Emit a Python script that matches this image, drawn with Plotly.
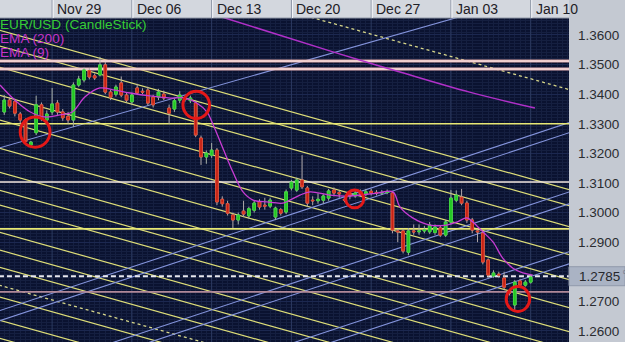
import plotly.graph_objects as go

# ---------------- data ----------------
week_labels = ["Nov 22", "Nov 29", "Dec 06", "Dec 13", "Dec 20", "Dec 27", "Jan 03", "Jan 10"]
week_index = [-15, 0, 15, 30, 45, 60, 75, 90]

bar_index = list(range(-9, 91))
opens = [1.3340, 1.3380, 1.3375, 1.3333, 1.3313, 1.3228, 1.3270, 1.3364, 1.3313,
         1.3340, 1.3370, 1.3340, 1.3325, 1.3313, 1.3431, 1.3448, 1.3480, 1.3462, 1.3465,
         1.3499, 1.3407, 1.3400, 1.3438, 1.3397, 1.3374, 1.3421, 1.3410, 1.3414, 1.3390,
         1.3390, 1.3400, 1.3353, 1.3350, 1.3380, 1.3385, 1.3378, 1.3370, 1.3252, 1.3188,
         1.3194, 1.3211, 1.3045, 1.3030, 1.2992, 1.2975, 1.3005, 1.2989, 1.3008, 1.3036,
         1.3025, 1.3022, 1.2985, 1.3010, 1.3002, 1.3083, 1.3076, 1.3110, 1.3083, 1.3042,
         1.3040, 1.3042, 1.3049, 1.3076, 1.3068, 1.3045, 1.3066, 1.3056, 1.3068, 1.3062,
         1.3072, 1.3068, 1.3066, 1.3068, 1.3066, 1.2938, 1.2938, 1.2866, 1.2938, 1.2935,
         1.2938, 1.2935, 1.2933, 1.2948, 1.2924, 1.2968, 1.3042, 1.3052, 1.3032, 1.2975,
         1.2938, 1.2931, 1.2840, 1.2786, 1.2792, 1.2779, 1.2730, 1.2688, 1.2769, 1.2755,
         1.2765]
highs = [1.3397, 1.3390, 1.3385, 1.3340, 1.3318, 1.3242, 1.3395, 1.3372, 1.3345,
         1.3421, 1.3380, 1.3350, 1.3340, 1.3440, 1.3462, 1.3490, 1.3488, 1.3470, 1.3526,
         1.3509, 1.3415, 1.3432, 1.3460, 1.3405, 1.3405, 1.3435, 1.3420, 1.3425, 1.3398,
         1.3418, 1.3412, 1.3365, 1.3385, 1.3410, 1.3395, 1.3395, 1.3378, 1.3260, 1.3210,
         1.3235, 1.3218, 1.3055, 1.3040, 1.3000, 1.3000, 1.3040, 1.3020, 1.3040, 1.3045,
         1.3050, 1.3050, 1.3020, 1.3015, 1.3078, 1.3110, 1.3118, 1.3194, 1.3090, 1.3055,
         1.3065, 1.3062, 1.3080, 1.3085, 1.3075, 1.3052, 1.3072, 1.3075, 1.3078, 1.3080,
         1.3080, 1.3076, 1.3076, 1.3078, 1.3070, 1.2945, 1.2945, 1.2948, 1.2960, 1.2960,
         1.2955, 1.2968, 1.2960, 1.2955, 1.2975, 1.3076, 1.3075, 1.3080, 1.3040, 1.2982,
         1.2945, 1.2938, 1.2845, 1.2805, 1.2800, 1.2800, 1.2738, 1.2772, 1.2775, 1.2772,
         1.2790]
lows = [1.3330, 1.3352, 1.3325, 1.3300, 1.3232, 1.3222, 1.3262, 1.3310, 1.3300,
        1.3330, 1.3330, 1.3310, 1.3300, 1.3289, 1.3425, 1.3440, 1.3450, 1.3448, 1.3460,
        1.3400, 1.3380, 1.3392, 1.3390, 1.3372, 1.3365, 1.3398, 1.3400, 1.3362, 1.3355,
        1.3380, 1.3380, 1.3300, 1.3340, 1.3370, 1.3375, 1.3370, 1.3255, 1.3161, 1.3165,
        1.3185, 1.3025, 1.3020, 1.2990, 1.2948, 1.2960, 1.2985, 1.2980, 1.3000, 1.3010,
        1.3010, 1.3015, 1.2975, 1.2990, 1.2995, 1.3075, 1.3070, 1.3080, 1.3020, 1.3025,
        1.3030, 1.3030, 1.3040, 1.3055, 1.3050, 1.3035, 1.3045, 1.3050, 1.3055, 1.3055,
        1.3058, 1.3058, 1.3060, 1.3062, 1.2930, 1.2900, 1.2862, 1.2856, 1.2925, 1.2925,
        1.2930, 1.2928, 1.2925, 1.2918, 1.2918, 1.2960, 1.3035, 1.3025, 1.2965, 1.2930,
        1.2900, 1.2825, 1.2780, 1.2780, 1.2780, 1.2740, 1.2720, 1.2671, 1.2748, 1.2750,
        1.2760]
closes = [1.3380, 1.3360, 1.3336, 1.3313, 1.3240, 1.3238, 1.3364, 1.3320, 1.3333,
          1.3367, 1.3340, 1.3320, 1.3313, 1.3431, 1.3451, 1.3482, 1.3458, 1.3455, 1.3499,
          1.3407, 1.3390, 1.3424, 1.3397, 1.3380, 1.3397, 1.3404, 1.3407, 1.3370, 1.3364,
          1.3407, 1.3387, 1.3336, 1.3378, 1.3397, 1.3382, 1.3387, 1.3262, 1.3188, 1.3201,
          1.3211, 1.3036, 1.3030, 1.2998, 1.2975, 1.2992, 1.2995, 1.3013, 1.3032, 1.3019,
          1.3022, 1.3042, 1.3015, 1.2998, 1.3070, 1.3103, 1.3110, 1.3087, 1.3032, 1.3040,
          1.3045, 1.3056, 1.3073, 1.3066, 1.3063, 1.3042, 1.3056, 1.3066, 1.3062, 1.3070,
          1.3066, 1.3066, 1.3068, 1.3070, 1.2941, 1.2935, 1.2870, 1.2938, 1.2935, 1.2938,
          1.2941, 1.2958, 1.2951, 1.2924, 1.2968, 1.3049, 1.3059, 1.3032, 1.2975, 1.2941,
          1.2935, 1.2833, 1.2789, 1.2796, 1.2789, 1.2748, 1.2728, 1.2765, 1.2755, 1.2765,
          1.2782]

ema9_index = [-9.8, -7, -4.1, -1.3, 1.5, 3.8, 6.2, 9, 11.8, 14.7, 18.4, 22.2, 25, 27.2,
              29.1, 30.3, 32.1, 34, 35.9, 37.8, 40.4, 43.4, 44.7, 46.6, 48.5, 52.2, 56,
              61.1, 64.1, 65.4, 67.8, 71, 74.2, 76.1, 78, 79.1, 81, 82.9, 84.7, 86.6,
              88.5, 90.4]
ema9_price = [1.3431, 1.3380, 1.3340, 1.3323, 1.3330, 1.3340, 1.3391, 1.3421, 1.3414,
              1.3404, 1.3394, 1.3387, 1.3387, 1.3370, 1.3340, 1.3296, 1.3218, 1.3137,
              1.3070, 1.3042, 1.3036, 1.3032, 1.3042, 1.3059, 1.3070, 1.3059, 1.3056,
              1.3066, 1.3070, 1.3019, 1.2982, 1.2958, 1.2958, 1.2968, 1.2982, 1.2968,
              1.2935, 1.2901, 1.2847, 1.2813, 1.2796, 1.2789]

ema200_index = [30.6, 52.8, 65.4, 78.5, 90.8]
ema200_price = [1.3668, 1.3543, 1.3475, 1.3407, 1.3353]

price_ticks = [1.26, 1.27, 1.29, 1.30, 1.31, 1.32, 1.33, 1.34, 1.35, 1.36]
last_price = 1.2785

pink_levels = [1.3512, 1.3485]
yellow_levels = [1.3300, 1.2945]
white_levels = [1.3103]
mauve_levels = [1.2732]

# descending (yellow) channel lines: price at bar -10
down_solid = [1.3617, 1.3563, 1.3492, 1.3397, 1.3313, 1.3218, 1.3137, 1.3076,
              1.3026, 1.2934, 1.2874, 1.2816, 1.2715, 1.2637, 1.2576]
down_dashed = [1.3955, 1.2755]
down_slope = -0.000503          # price per bar
# ascending (blue) lines: price at bar -10 and slope (price per bar)
up_lines = [1.3218, 1.2668, 1.2634, 1.2434, 1.2394, 1.2232, 1.2191]
up_slopes = [0.000512, 0.000593, 0.000593, 0.000593, 0.000593, 0.000593, 0.000593]

# red circles: centre bar, centre price, radius in bars, radius in price
circle_bar = [-3.2, 27.1, 56.9, 87.6]
circle_price = [1.3272, 1.3364, 1.3046, 1.2708]
circle_rx = [2.8, 2.5, 1.7, 2.2]
circle_ry = [0.0051, 0.0046, 0.0030, 0.0042]

# ---------------- figure ----------------
X0, X1 = -9.8, 97.2
Y0, Y1 = 1.25628, 1.36574
LX0, LX1 = -10, 98
FONT = "Liberation Sans, Arial"

fig = go.Figure()

shapes = []
def seg(x0, y0, x1, y1, color, width=1, dash="solid", layer="between"):
    shapes.append(dict(type="line", xref="x", yref="y", x0=x0, y0=y0, x1=x1, y1=y1,
                       line=dict(color=color, width=width, dash=dash), layer=layer))

for wi in week_index:
    seg(wi, Y0 - 0.01, wi, Y1 + 0.01, "#2c3a60", 1)

for p in down_solid:
    seg(LX0, p, LX1, p + down_slope * (LX1 - LX0), "#dede78", 1.2)
for p in down_dashed:
    seg(LX0, p, LX1, p + down_slope * (LX1 - LX0), "#d6d68a", 1.3, "3px,3px")
for p, s in zip(up_lines, up_slopes):
    seg(LX0, p, LX1, p + s * (LX1 - LX0), "#8494dc", 1.1)

for p in yellow_levels:
    seg(LX0, p, LX1, p, "#e8e874", 1.6)
for p in white_levels:
    seg(LX0, p, LX1, p, "#f2e6de", 1.5)
for p in mauve_levels:
    seg(LX0, p, LX1, p, "#b08898", 1.6)
for p in pink_levels:
    seg(LX0, p, LX1, p, "#e0a8a8", 3)
    seg(LX0, p, LX1, p, "#fff4f4", 1)
seg(LX0, last_price, LX1, last_price, "#e8e8ee", 2, "5px,3px")

fig.add_trace(go.Scatter(x=ema200_index, y=ema200_price, mode="lines",
                         line=dict(color="#b030c8", width=1.5, shape="spline"),
                         showlegend=False, hoverinfo="skip"))

# wicks (grey) then bodies (coloured) on top
fig.add_trace(go.Candlestick(
    x=bar_index, open=opens, high=highs, low=lows, close=closes,
    increasing=dict(line=dict(color="#a8b0a8", width=1), fillcolor="#26c826"),
    decreasing=dict(line=dict(color="#b0a8a8", width=1), fillcolor="#cc2418"),
    whiskerwidth=0, showlegend=False, hoverinfo="skip"))
body_top = [max(o, c) for o, c in zip(opens, closes)]
body_bot = [min(o, c) for o, c in zip(opens, closes)]
fig.add_trace(go.Candlestick(
    x=bar_index, open=opens, high=body_top, low=body_bot, close=closes,
    increasing=dict(line=dict(color="#3ad83a", width=1), fillcolor="#22c422"),
    decreasing=dict(line=dict(color="#e0462e", width=1), fillcolor="#c42016"),
    whiskerwidth=0, showlegend=False, hoverinfo="skip"))

fig.add_trace(go.Scatter(x=ema9_index, y=ema9_price, mode="lines",
                         line=dict(color="#c83cd4", width=1.3, shape="spline"),
                         showlegend=False, hoverinfo="skip"))

for cx, cy, rx, ry in zip(circle_bar, circle_price, circle_rx, circle_ry):
    shapes.append(dict(type="circle", xref="x", yref="y", x0=cx - rx, x1=cx + rx,
                       y0=cy - ry, y1=cy + ry, line=dict(color="#e41818", width=3),
                       layer="above"))

# header band
HDR = 18 / 324
shapes.append(dict(type="rect", xref="paper", yref="paper", x0=0, x1=1, y0=1, y1=1 + HDR + 0.01,
                   fillcolor="#d3d7de", line=dict(width=0), layer="above"))
shapes.append(dict(type="line", xref="paper", yref="paper", x0=0, x1=1, y0=1, y1=1,
                   line=dict(color="#8e96a6", width=1), layer="above"))
for wi in week_index:
    shapes.append(dict(type="line", xref="x", yref="paper", x0=wi, x1=wi, y0=1, y1=1 + HDR + 0.01,
                       line=dict(color="#8a93a4", width=1), layer="above"))
    shapes.append(dict(type="line", xref="x", yref="paper", x0=wi + 0.2, x1=wi + 0.2, y0=1,
                       y1=1 + HDR + 0.01, line=dict(color="#f4f6fa", width=1), layer="above"))

def to_paper(p):
    return (p - Y0) / (Y1 - Y0)
shapes.append(dict(type="rect", xref="paper", yref="paper", x0=1.0, x1=1 + 56 / 569,
                   y0=to_paper(last_price) - 9.5 / 324, y1=to_paper(last_price) + 9.5 / 324,
                   fillcolor="#aab3c4", line=dict(color="#9099ab", width=1), layer="above"))

annotations = []
for lab, wi in zip(week_labels, week_index):
    annotations.append(dict(xref="x", yref="paper", x=wi + 0.55, y=1 + 9 / 324, text=lab,
                            xanchor="left", yanchor="middle", showarrow=False,
                            font=dict(family=FONT, size=14, color="#1e2026")))
legend_items = [("EUR/USD (CandleStick)", "#36cc36", 25), ("EMA (200)", "#c434c8", 39),
                ("EMA (9)", "#c434c8", 52)]
for txt, col, ypx in legend_items:
    annotations.append(dict(xref="paper", yref="paper", x=-0.003, y=1 - (ypx - 18) / 324, text=txt,
                            xanchor="left", yanchor="middle", showarrow=False,
                            font=dict(family=FONT, size=13.6, color=col)))
annotations.append(dict(xref="paper", yref="y", x=1 + 8 / 569, y=last_price, text="1.2785",
                        xanchor="left", yanchor="middle", showarrow=False,
                        font=dict(family=FONT, size=13.5, color="#26282c")))
annotations.append(dict(xref="paper", yref="y", x=1 + 51.5 / 569, y=last_price + 0.0013, text="0",
                        xanchor="left", yanchor="middle", showarrow=False,
                        font=dict(family=FONT, size=6, color="#6a7080")))

fig.update_layout(
    width=625, height=342,
    margin=dict(l=0, r=56, t=18, b=0),
    paper_bgcolor="#c4c9d2",
    plot_bgcolor="#0a1230",
    shapes=shapes,
    annotations=annotations,
    showlegend=False,
    xaxis=dict(range=[X0, X1], showticklabels=False, ticks="", zeroline=False,
               showgrid=False, fixedrange=True,
               minor=dict(dtick=1, tick0=0, showgrid=True, gridcolor="#151f40", gridwidth=1),
               rangeslider=dict(visible=False)),
    yaxis=dict(range=[Y0, Y1], side="right", tickmode="array", tickvals=price_ticks,
               ticktext=[f"{v:.4f}" for v in price_ticks], showgrid=True,
               gridcolor="#1c2850", zeroline=False, ticks="", ticklabelstandoff=8,
               tickfont=dict(family=FONT, size=13.5, color="#2a2c30"),
               minor=dict(tickmode="linear", tick0=1.26, dtick=0.001, showgrid=True,
                          gridcolor="#151f40", gridwidth=1),
               fixedrange=True),
)

fig.write_html("out.html")
